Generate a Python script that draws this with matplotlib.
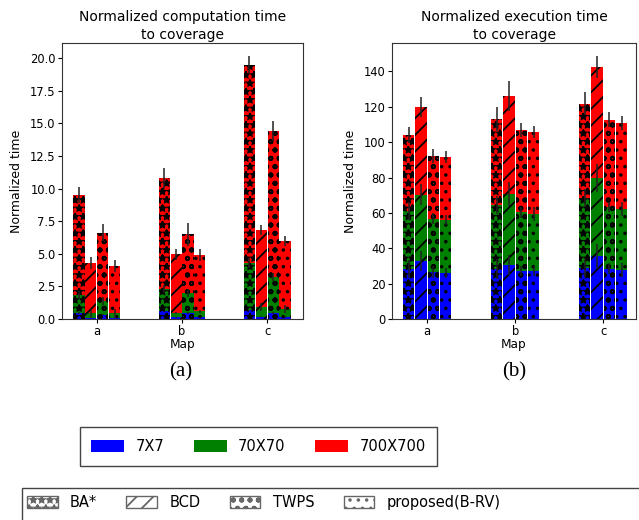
import numpy as np
import matplotlib
matplotlib.use("Agg")
import matplotlib.pyplot as plt
from matplotlib.patches import Patch, Rectangle

maps = ["a", "b", "c"]
methods = ["BA*", "BCD", "TWPS", "proposed(B-RV)"]
sizes = ["7X7", "70X70", "700X700"]
hatches = ["**", "//", "oo", ".."]
size_colors = ["blue", "green", "red"]

# Normalized computation time (cumulative level per map size), rows = methods, cols = maps
comp_7 = [[0.46, 0.60, 0.67], [0.10, 0.13, 0.18], [0.33, 0.46, 0.46], [0.10, 0.13, 0.15]]
comp_70 = [[1.87, 2.30, 4.31], [0.46, 0.46, 0.92], [1.36, 2.00, 3.23], [0.46, 0.59, 0.77]]
comp_700 = [[9.49, 10.80, 19.49], [4.31, 4.95, 6.82], [6.62, 6.49, 14.41], [4.05, 4.87, 5.97]]
comp_7_err = [[0.05, 0.05, 0.05], [0.05, 0.05, 0.05], [0.05, 0.05, 0.05], [0.05, 0.05, 0.05]]
comp_70_err = [[0.3, 0.3, 0.4], [0.3, 0.1, 0.3], [0.3, 0.3, 0.3], [0.3, 0.1, 0.3]]
comp_700_err = [[0.60, 0.80, 0.66], [0.46, 0.43, 0.38], [0.64, 0.89, 0.74], [0.44, 0.46, 0.39]]

# Normalized execution time
exec_7 = [[28.2, 28.2, 28.9], [32.9, 30.6, 35.5], [26.4, 27.2, 28.5], [26.1, 27.2, 27.8]]
exec_70 = [[61.2, 64.6, 68.4], [70.3, 70.7, 79.7], [56.7, 60.3, 63.3], [56.1, 59.3, 62.3]]
exec_700 = [[104.1, 113.2, 121.7], [120.0, 126.2, 142.6], [92.2, 106.9, 112.6], [91.6, 105.8, 110.9]]
exec_7_err = [[5.0, 5.5, 5.0], [5.7, 5.5, 7.0], [3.0, 3.0, 3.0], [3.0, 3.0, 4.0]]
exec_70_err = [[5.0, 5.0, 5.0], [6.0, 6.6, 8.0], [3.0, 3.0, 3.0], [3.0, 4.0, 4.0]]
exec_700_err = [[4.7, 6.6, 6.6], [5.8, 8.3, 6.1], [3.8, 3.8, 4.3], [3.4, 3.6, 3.8]]

plt.rcParams["font.family"] = ["DejaVu Sans"]
plt.rcParams["hatch.linewidth"] = 1.3

W, H = 639, 520
fig = plt.figure(figsize=(W / 100, H / 100), dpi=100)
ax1 = fig.add_axes([0.097, 0.3865, 0.377, 0.531])
ax2 = fig.add_axes([0.6135, 0.3865, 0.382, 0.531])

x = np.arange(len(maps))
width = 0.13
step = 0.14


def draw(ax, levels, errs, title, xlim, ylabel_x):
    for i, method in enumerate(methods):
        pos = x + (i - 1.5) * step
        # largest level first, smaller levels overlaid on top
        for lvl in (2, 1, 0):
            ax.bar(pos, levels[lvl][i], width, yerr=errs[lvl][i],
                   color=size_colors[lvl], hatch=hatches[i], linewidth=0,
                   error_kw=dict(ecolor="#222222", elinewidth=1.1, capsize=0))
    ax.set_xticks(x)
    ax.set_xticklabels(maps)
    ax.set_xlim(*xlim)
    ax.set_xlabel("Map", fontsize=8.7, labelpad=0)
    ax.set_ylabel("Normalized time", fontsize=9)
    ax.yaxis.set_label_coords(ylabel_x, 0.5)
    ax.set_title(title, fontsize=10, pad=3, linespacing=1.3)
    ax.tick_params(labelsize=8.3, length=3, pad=1.5)
    for s in ax.spines.values():
        s.set_color("#333333")


draw(ax1, [comp_7, comp_70, comp_700], [comp_7_err, comp_70_err, comp_700_err],
     "Normalized computation time\nto coverage", (-0.41, 2.42), -0.162)
draw(ax2, [exec_7, exec_70, exec_700], [exec_7_err, exec_70_err, exec_700_err],
     "Normalized execution time\nto coverage", (-0.40, 2.375), -0.143)

fig.text(0.283, 0.2846, "(a)", family="Liberation Serif", fontsize=15, ha="center", va="center")
fig.text(0.805, 0.2846, "(b)", family="Liberation Serif", fontsize=15, ha="center", va="center")

size_handles = [Patch(facecolor=c, edgecolor="none") for c in size_colors]
leg1 = fig.legend(size_handles, sizes, loc="center", bbox_to_anchor=(0.4045, 0.1413),
                  ncol=3, fontsize=10.5, handlelength=2.25, handleheight=0.95,
                  handletextpad=0.8, columnspacing=2.0, fancybox=False,
                  edgecolor="#444444", framealpha=1, borderpad=0.8)

method_handles = [Patch(facecolor="white", edgecolor="#666666", hatch=h) for h in hatches]
leg2 = fig.legend(method_handles, methods, loc="upper left",
                  bbox_to_anchor=(27 / W, 1 - 495 / H), borderaxespad=0,
                  ncol=4, fontsize=10.5, handlelength=2.1, handleheight=0.95,
                  handletextpad=0.85, columnspacing=2.0, frameon=False, borderpad=0)
# wide frame around the method legend, running past the figure edge
fig.patches.append(Rectangle((22 / W, -0.05), 1.0, 1 - 488 / H + 0.05,
                             transform=fig.transFigure, facecolor="none",
                             edgecolor="#444444", linewidth=1.0, zorder=0))

fig.savefig("out.png", dpi=100)
